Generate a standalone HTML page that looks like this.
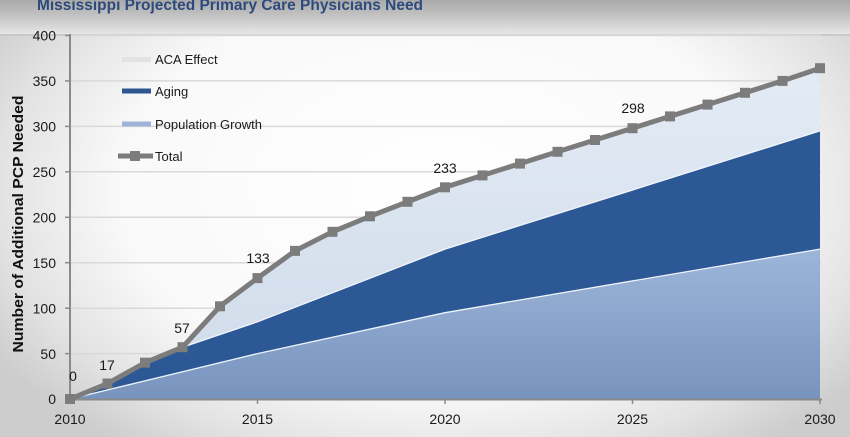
<!DOCTYPE html>
<html><head><meta charset="utf-8">
<style>
html,body{margin:0;padding:0;width:850px;height:437px;overflow:hidden;background:#d8d8d8;}
svg{display:block;font-family:"Liberation Sans",sans-serif;}
</style></head>
<body>
<svg width="850" height="437" viewBox="0 0 850 437" xmlns="http://www.w3.org/2000/svg">
<defs>
<radialGradient id="bg" cx="440" cy="190" r="520" gradientUnits="userSpaceOnUse" gradientTransform="translate(440 190) scale(1 0.62) translate(-440 -190)">
<stop offset="0" stop-color="#ffffff"/>
<stop offset="0.62" stop-color="#f9f9f9"/>
<stop offset="0.85" stop-color="#e2e2e2"/>
<stop offset="1" stop-color="#cdcdcd"/>
</radialGradient>
<linearGradient id="top" x1="0" y1="0" x2="0" y2="1">
<stop offset="0" stop-color="#a9a9a9"/>
<stop offset="0.35" stop-color="#bcbcbc"/>
<stop offset="1" stop-color="#e6e6e6"/>
</linearGradient>
<linearGradient id="pop" x1="0" y1="249" x2="0" y2="399" gradientUnits="userSpaceOnUse">
<stop offset="0" stop-color="#9cb5da"/>
<stop offset="1" stop-color="#7894bd"/>
</linearGradient>
<linearGradient id="aca" x1="0" y1="68" x2="0" y2="330" gradientUnits="userSpaceOnUse">
<stop offset="0" stop-color="#e3ebf5"/>
<stop offset="1" stop-color="#d3deec"/>
</linearGradient>
</defs>
<rect x="0" y="0" width="850" height="437" fill="url(#bg)"/>
<rect x="0" y="0" width="850" height="34" fill="url(#top)"/>
<line x1="0" y1="35" x2="850" y2="35" stroke="#c4c4c4" stroke-width="1.5"/>

<text x="37" y="10" font-size="16" font-weight="bold" fill="#2d4a7c" textLength="386" lengthAdjust="spacingAndGlyphs">Mississippi Projected Primary Care Physicians Need</text>

<!-- gridlines -->
<g stroke="#d9d9d9" stroke-width="1.5">
<line x1="70" y1="353.6" x2="821" y2="353.6"/>
<line x1="70" y1="308.2" x2="821" y2="308.2"/>
<line x1="70" y1="262.7" x2="821" y2="262.7"/>
<line x1="70" y1="217.3" x2="821" y2="217.3"/>
<line x1="70" y1="171.8" x2="821" y2="171.8"/>
<line x1="70" y1="126.4" x2="821" y2="126.4"/>
<line x1="70" y1="80.9" x2="821" y2="80.9"/>
<line x1="70" y1="35.5" x2="821" y2="35.5"/>
</g>

<!-- areas -->
<path d="M70,399 L257.5,353.6 L445,312.7 L820,249.1 L820,399 Z" fill="url(#pop)"/>
<path d="M70,399 L107.5,383.55 L145,362.65 L182.5,347.2 L257.5,321.8 L445,249.1 L820,130.9 L820,249.1 L445,312.7 L257.5,353.6 Z" fill="#2d5896"/>
<path d="M182.5,347.2 L220,306.3 L257.5,278.1 L295,250.9 L332.5,231.8 L370,216.3 L407.5,201.8 L445,187.3 L482.5,175.4 L520,163.6 L557.5,151.8 L595,140 L632.5,128.2 L670,116.4 L707.5,104.6 L745,92.8 L782.5,80.9 L820,68.2 L820,130.9 L445,249.1 L257.5,321.8 Z" fill="url(#aca)"/>
<polyline points="70,399 257.5,353.6 445,312.7 820,249.1" fill="none" stroke="#eef4fb" stroke-width="1.3"/>
<polyline points="182.5,347.2 257.5,321.8 445,249.1 820,130.9" fill="none" stroke="#f2f6fb" stroke-width="1.3"/>

<!-- axes -->
<line x1="70" y1="34" x2="70" y2="400" stroke="#8a8a8a" stroke-width="2"/>
<line x1="69" y1="399.5" x2="822" y2="399.5" stroke="#8a8a8a" stroke-width="2"/>
<g stroke="#8a8a8a" stroke-width="1.5">
<line x1="65" y1="35.5" x2="70" y2="35.5"/>
<line x1="65" y1="80.9" x2="70" y2="80.9"/>
<line x1="65" y1="126.4" x2="70" y2="126.4"/>
<line x1="65" y1="171.8" x2="70" y2="171.8"/>
<line x1="65" y1="217.3" x2="70" y2="217.3"/>
<line x1="65" y1="262.7" x2="70" y2="262.7"/>
<line x1="65" y1="308.2" x2="70" y2="308.2"/>
<line x1="65" y1="353.6" x2="70" y2="353.6"/>
<line x1="257.5" y1="399" x2="257.5" y2="404"/>
<line x1="445" y1="399" x2="445" y2="404"/>
<line x1="632.5" y1="399" x2="632.5" y2="404"/>
<line x1="820" y1="399" x2="820" y2="404"/>
</g>

<!-- y tick labels -->
<g font-size="14" fill="#1a1a1a" text-anchor="end">
<text x="56" y="40.5">400</text>
<text x="56" y="86">350</text>
<text x="56" y="131.5">300</text>
<text x="56" y="177">250</text>
<text x="56" y="222.5">200</text>
<text x="56" y="268">150</text>
<text x="56" y="313.5">100</text>
<text x="56" y="359">50</text>
<text x="56" y="404">0</text>
</g>
<!-- x tick labels -->
<g font-size="14" fill="#1a1a1a" text-anchor="middle">
<text x="70" y="424">2010</text>
<text x="257.5" y="424">2015</text>
<text x="445" y="424">2020</text>
<text x="632.5" y="424">2025</text>
<text x="820" y="424">2030</text>
</g>
<text transform="translate(23 224) rotate(-90)" font-size="14.5" font-weight="bold" fill="#111" text-anchor="middle" textLength="257" lengthAdjust="spacingAndGlyphs">Number of  Additional PCP Needed</text>

<!-- total line -->
<polyline points="70,399 107.5,383.55 145,362.65 182.5,347.2 220,306.3 257.5,278.1 295,250.9 332.5,231.8 370,216.3 407.5,201.8 445,187.3 482.5,175.4 520,163.6 557.5,151.8 595,140 632.5,128.2 670,116.4 707.5,104.6 745,92.8 782.5,80.9 820,68.2" fill="none" stroke="#7c7c7c" stroke-width="5" stroke-linejoin="round"/>
<g fill="#7c7c7c">
<rect x="65" y="394" width="10" height="10"/>
<rect x="102.5" y="378.55" width="10" height="10"/>
<rect x="140" y="357.65" width="10" height="10"/>
<rect x="177.5" y="342.2" width="10" height="10"/>
<rect x="215" y="301.3" width="10" height="10"/>
<rect x="252.5" y="273.1" width="10" height="10"/>
<rect x="290" y="245.9" width="10" height="10"/>
<rect x="327.5" y="226.8" width="10" height="10"/>
<rect x="365" y="211.3" width="10" height="10"/>
<rect x="402.5" y="196.8" width="10" height="10"/>
<rect x="440" y="182.3" width="10" height="10"/>
<rect x="477.5" y="170.4" width="10" height="10"/>
<rect x="515" y="158.6" width="10" height="10"/>
<rect x="552.5" y="146.8" width="10" height="10"/>
<rect x="590" y="135" width="10" height="10"/>
<rect x="627.5" y="123.2" width="10" height="10"/>
<rect x="665" y="111.4" width="10" height="10"/>
<rect x="702.5" y="99.6" width="10" height="10"/>
<rect x="740" y="87.8" width="10" height="10"/>
<rect x="777.5" y="75.9" width="10" height="10"/>
<rect x="815" y="63.2" width="10" height="10"/>
</g>

<!-- data labels -->
<g font-size="14" fill="#1a1a1a" text-anchor="middle">
<text x="73" y="381">0</text>
<text x="107" y="370">17</text>
<text x="182" y="333">57</text>
<text x="258" y="263">133</text>
<text x="445" y="173">233</text>
<text x="633" y="113">298</text>
</g>

<!-- legend -->
<line x1="122" y1="59.5" x2="151" y2="59.5" stroke="#e2e2e2" stroke-width="5"/>
<line x1="122" y1="91" x2="151" y2="91" stroke="#2d5590" stroke-width="5"/>
<line x1="122" y1="124" x2="151" y2="124" stroke="#9db4d8" stroke-width="5"/>
<line x1="118" y1="156" x2="153" y2="156" stroke="#7c7c7c" stroke-width="5"/>
<rect x="130" y="151" width="10" height="10" fill="#7c7c7c"/>
<g font-size="13" fill="#1a1a1a">
<text x="155" y="64">ACA Effect</text>
<text x="155" y="96">Aging</text>
<text x="155" y="129">Population Growth</text>
<text x="155" y="161">Total</text>
</g>
</svg>
</body></html>
